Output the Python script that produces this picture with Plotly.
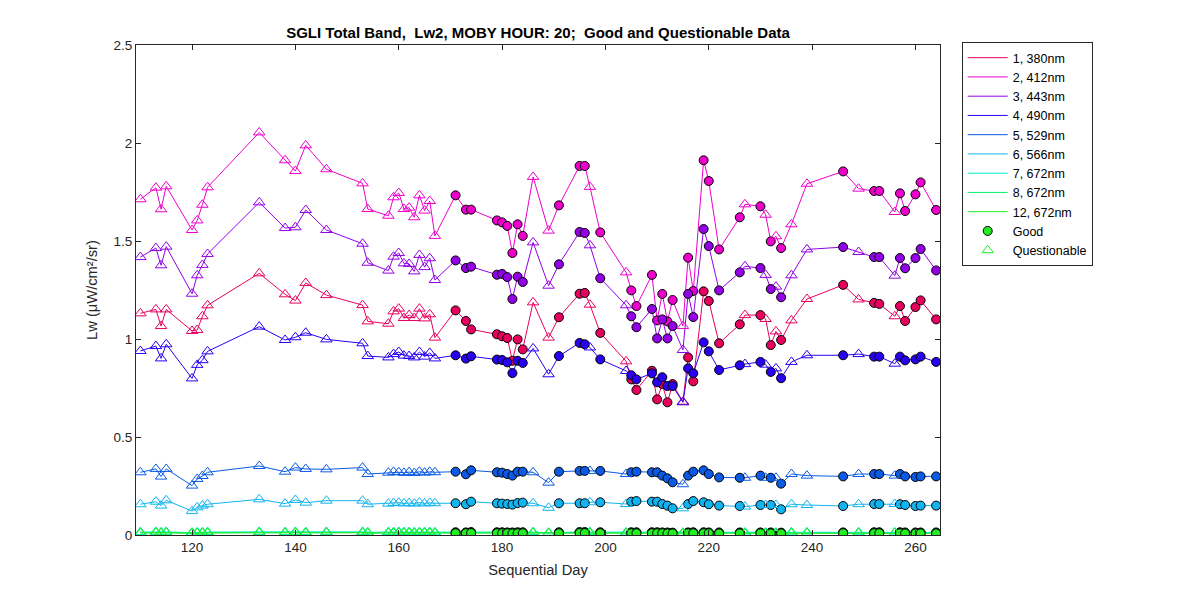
import plotly.graph_objects as go

days = [110, 113, 114, 115, 120, 121, 122, 123, 133, 138, 140, 142, 146, 153, 154,
        158, 159, 160, 161, 162, 163, 164, 165, 166, 167, 171, 173, 174, 179, 180,
        181, 182, 183, 184, 186, 189, 191, 195, 196, 197, 199, 204, 205, 206, 209,
        210, 211, 212, 213, 215, 216, 217, 219, 220, 222, 226, 227, 230, 231, 232,
        233, 234, 236, 239, 246, 249, 252, 253, 256, 257, 258, 260, 261, 264]

quality = ["Q", "Q", "Q", "Q", "Q", "Q", "Q", "Q", "Q", "Q", "Q", "Q", "Q", "Q", "Q",
           "Q", "Q", "Q", "Q", "Q", "Q", "Q", "Q", "Q", "Q", "G", "G", "G", "G", "G",
           "G", "G", "G", "G", "Q", "Q", "G", "G", "G", "Q", "G", "Q", "G", "G", "G",
           "G", "G", "G", "G", "Q", "G", "G", "G", "G", "G", "G", "Q", "G", "Q", "G",
           "Q", "G", "Q", "Q", "G", "Q", "G", "G", "Q", "G", "G", "G", "G", "G"]

band_names = ["1, 380nm", "2, 412nm", "3, 443nm", "4, 490nm", "5, 529nm",
              "6, 566nm", "7, 672nm", "8, 672nm", "12, 672nm"]
band_colors = ["#E8005F", "#EE00CC", "#9300E6", "#2A00F0", "#0A5AE6",
               "#10B4F0", "#00F0C8", "#00F070", "#22EE22"]

lw_380 = [1.131, 1.151, 1.066, 1.151, 1.041, 1.046, 1.116, 1.172, 1.335, 1.228, 1.196, 1.286, 1.224, 1.173, 1.090,
          1.078, 1.141, 1.155, 1.107, 1.122, 1.107, 1.155, 1.105, 1.126, 1.007, 1.146, 1.092, 1.049, 1.024, 1.014,
          1.005, 0.889, 0.998, 0.947, 1.187, 1.007, 1.111, 1.231, 1.235, 1.175, 1.031, 0.886, 0.794, 0.740, 0.838,
          0.692, 0.770, 0.677, 0.770, 0.680, 0.906, 0.784, 1.243, 1.194, 0.978, 1.075, 1.122, 1.122, 1.102, 0.969,
          1.039, 0.995, 1.095, 1.204, 1.276, 1.202, 1.184, 1.179, 1.116, 1.168, 1.092, 1.163, 1.197, 1.100]
lw_412 = [1.713, 1.772, 1.662, 1.779, 1.556, 1.605, 1.685, 1.774, 2.054, 1.912, 1.857, 1.988, 1.866, 1.794, 1.663,
          1.629, 1.723, 1.745, 1.663, 1.670, 1.621, 1.733, 1.655, 1.704, 1.526, 1.733, 1.660, 1.660, 1.605, 1.595,
          1.577, 1.439, 1.585, 1.526, 1.827, 1.553, 1.682, 1.883, 1.883, 1.776, 1.544, 1.340, 1.248, 1.168, 1.327,
          1.095, 1.230, 1.090, 1.199, 1.066, 1.415, 1.245, 1.912, 1.806, 1.457, 1.621, 1.687, 1.677, 1.634, 1.498,
          1.524, 1.464, 1.585, 1.792, 1.855, 1.767, 1.755, 1.755, 1.648, 1.743, 1.653, 1.738, 1.799, 1.658]
lw_443 = [1.418, 1.464, 1.376, 1.471, 1.231, 1.325, 1.378, 1.434, 1.697, 1.566, 1.570, 1.658, 1.556, 1.486, 1.389,
          1.349, 1.420, 1.439, 1.386, 1.383, 1.345, 1.429, 1.367, 1.412, 1.301, 1.401, 1.362, 1.369, 1.328, 1.332,
          1.316, 1.204, 1.318, 1.291, 1.493, 1.272, 1.381, 1.546, 1.541, 1.478, 1.310, 1.172, 1.116, 1.060, 1.153,
          1.003, 1.100, 1.003, 1.066, 0.944, 1.230, 1.112, 1.561, 1.474, 1.248, 1.340, 1.371, 1.362, 1.327, 1.255,
          1.267, 1.213, 1.325, 1.457, 1.469, 1.444, 1.418, 1.418, 1.323, 1.413, 1.361, 1.413, 1.459, 1.350]
lw_490 = [0.939, 0.964, 0.901, 0.973, 0.799, 0.868, 0.892, 0.937, 1.063, 0.995, 1.009, 1.032, 0.998, 0.978, 0.913,
          0.906, 0.923, 0.934, 0.915, 0.913, 0.906, 0.934, 0.910, 0.929, 0.901, 0.917, 0.900, 0.912, 0.895, 0.893,
          0.881, 0.826, 0.889, 0.878, 0.952, 0.820, 0.913, 0.980, 0.973, 0.957, 0.896, 0.837, 0.815, 0.794, 0.825,
          0.779, 0.805, 0.760, 0.760, 0.677, 0.850, 0.825, 0.983, 0.937, 0.842, 0.866, 0.872, 0.883, 0.869, 0.832,
          0.850, 0.800, 0.883, 0.917, 0.917, 0.923, 0.910, 0.910, 0.874, 0.910, 0.891, 0.896, 0.910, 0.883]
lw_529 = [0.320, 0.337, 0.298, 0.337, 0.252, 0.286, 0.301, 0.320, 0.352, 0.323, 0.344, 0.337, 0.335, 0.344, 0.311,
          0.318, 0.322, 0.320, 0.317, 0.321, 0.316, 0.323, 0.318, 0.322, 0.320, 0.323, 0.310, 0.330, 0.320, 0.318,
          0.311, 0.303, 0.323, 0.323, 0.320, 0.267, 0.323, 0.327, 0.327, 0.327, 0.327, 0.311, 0.320, 0.323, 0.320,
          0.320, 0.303, 0.289, 0.269, 0.259, 0.303, 0.323, 0.330, 0.311, 0.294, 0.292, 0.292, 0.303, 0.292, 0.292,
          0.292, 0.262, 0.311, 0.303, 0.299, 0.311, 0.311, 0.311, 0.303, 0.311, 0.299, 0.296, 0.299, 0.299]
lw_566 = [0.157, 0.170, 0.150, 0.177, 0.122, 0.141, 0.150, 0.157, 0.182, 0.160, 0.179, 0.165, 0.175, 0.175, 0.157,
          0.160, 0.163, 0.165, 0.161, 0.163, 0.160, 0.166, 0.161, 0.164, 0.162, 0.162, 0.157, 0.170, 0.162, 0.160,
          0.158, 0.155, 0.163, 0.165, 0.162, 0.139, 0.162, 0.162, 0.162, 0.167, 0.167, 0.158, 0.170, 0.173, 0.170,
          0.170, 0.158, 0.150, 0.136, 0.136, 0.158, 0.173, 0.167, 0.157, 0.150, 0.148, 0.145, 0.153, 0.153, 0.153,
          0.153, 0.131, 0.157, 0.153, 0.148, 0.157, 0.158, 0.158, 0.158, 0.157, 0.153, 0.148, 0.150, 0.150]
lw_672a = [0.015, 0.016, 0.014, 0.016, 0.012, 0.013, 0.014, 0.015, 0.016, 0.015, 0.016, 0.015, 0.016, 0.016, 0.014,
           0.015, 0.015, 0.016, 0.015, 0.015, 0.014, 0.015, 0.015, 0.015, 0.014, 0.014, 0.013, 0.015, 0.014, 0.014,
           0.013, 0.013, 0.014, 0.014, 0.015, 0.012, 0.014, 0.015, 0.015, 0.015, 0.014, 0.013, 0.014, 0.014, 0.014,
           0.014, 0.013, 0.013, 0.012, 0.012, 0.013, 0.014, 0.014, 0.013, 0.013, 0.013, 0.013, 0.013, 0.013, 0.013,
           0.013, 0.012, 0.014, 0.013, 0.013, 0.014, 0.014, 0.014, 0.013, 0.014, 0.013, 0.013, 0.013, 0.013]
lw_672b = [0.012, 0.013, 0.011, 0.013, 0.010, 0.011, 0.011, 0.012, 0.013, 0.012, 0.013, 0.012, 0.013, 0.013, 0.011,
           0.012, 0.012, 0.013, 0.012, 0.012, 0.011, 0.012, 0.012, 0.012, 0.011, 0.011, 0.011, 0.012, 0.011, 0.011,
           0.011, 0.010, 0.011, 0.011, 0.012, 0.010, 0.011, 0.012, 0.012, 0.012, 0.011, 0.011, 0.011, 0.011, 0.011,
           0.011, 0.011, 0.010, 0.010, 0.010, 0.011, 0.011, 0.011, 0.011, 0.010, 0.010, 0.010, 0.011, 0.010, 0.010,
           0.010, 0.010, 0.011, 0.011, 0.011, 0.011, 0.011, 0.011, 0.011, 0.011, 0.010, 0.010, 0.010, 0.010]
lw_672c = [0.010, 0.011, 0.009, 0.011, 0.008, 0.009, 0.009, 0.010, 0.011, 0.010, 0.011, 0.010, 0.011, 0.011, 0.009,
           0.010, 0.010, 0.011, 0.010, 0.010, 0.009, 0.010, 0.010, 0.010, 0.009, 0.009, 0.009, 0.010, 0.009, 0.009,
           0.009, 0.008, 0.009, 0.009, 0.010, 0.008, 0.009, 0.010, 0.010, 0.010, 0.009, 0.009, 0.009, 0.009, 0.009,
           0.009, 0.009, 0.008, 0.008, 0.008, 0.009, 0.009, 0.009, 0.009, 0.008, 0.008, 0.008, 0.009, 0.008, 0.008,
           0.008, 0.008, 0.009, 0.009, 0.009, 0.009, 0.009, 0.009, 0.009, 0.009, 0.008, 0.008, 0.008, 0.008]

bands = [lw_380, lw_412, lw_443, lw_490, lw_529, lw_566, lw_672a, lw_672b, lw_672c]

FONT = "Liberation Sans, Arial, sans-serif"
TXT = "#262626"

fig = go.Figure()
nb = len(bands)
for i, (vals, name, col) in enumerate(zip(bands, band_names, band_colors)):
    fig.add_trace(go.Scatter(x=days, y=vals, mode="lines", name=name,
                             line=dict(color=col, width=1),
                             legendrank=i + 1, showlegend=True, hoverinfo="skip"))
    gx = [d for d, q in zip(days, quality) if q == "G"]
    gy = [v for v, q in zip(vals, quality) if q == "G"]
    qx = [d for d, q in zip(days, quality) if q == "Q"]
    qy = [v for v, q in zip(vals, quality) if q == "Q"]
    last = (i == nb - 1)
    fig.add_trace(go.Scatter(x=gx, y=gy, mode="markers", name="Good",
                             marker=dict(symbol="circle", size=9, color=col,
                                         line=dict(color="black", width=1)),
                             showlegend=last, legendrank=20))
    fig.add_trace(go.Scatter(x=qx, y=qy, mode="markers", name="Questionable",
                             marker=dict(symbol="triangle-up-open", size=10, color=col,
                                         line=dict(color=col, width=1)),
                             showlegend=last, legendrank=21))

axis_common = dict(showline=True, linecolor=TXT, linewidth=1, mirror="ticks",
                   ticks="inside", ticklen=5, tickcolor=TXT, showgrid=False,
                   zeroline=False, tickfont=dict(family=FONT, size=13.5, color=TXT))

# page body has an 8px default margin, so the figure is drawn 8px smaller/shifted
fig.update_layout(
    width=1184, height=584,
    margin=dict(l=128, r=252, t=37, b=57),
    paper_bgcolor="white", plot_bgcolor="white",
    font=dict(family=FONT, size=13, color=TXT),
    title=dict(text="<b>SGLI Total Band,  Lw2, MOBY HOUR: 20;  Good and Questionable Data</b>",
               x=0.5, xanchor="center", xref="paper", y=1 - 25 / 584, yref="container",
               yanchor="middle", font=dict(family=FONT, size=15, color="black")),
    xaxis=dict(range=[109.15, 264.75], tickvals=[120, 140, 160, 180, 200, 220, 240, 260],
               title=dict(text="Sequential Day", standoff=10, font=dict(family=FONT, size=14.7, color=TXT)),
               **axis_common),
    yaxis=dict(range=[0, 2.5], tickvals=[0, 0.5, 1, 1.5, 2, 2.5],
               ticktext=["0", "0.5", "1", "1.5", "2", "2.5"],
               title=dict(text="Lw (μW/cm²/sr)", standoff=12, font=dict(family=FONT, size=14.7, color=TXT)),
               **axis_common),
    legend=dict(x=1.027, y=1.006, xanchor="left", yanchor="top",
                bordercolor=TXT, borderwidth=1, bgcolor="white",
                font=dict(family=FONT, size=12.5, color="black"),
                tracegroupgap=0, itemwidth=40),
    showlegend=True,
)

fig.write_html("out.html")
